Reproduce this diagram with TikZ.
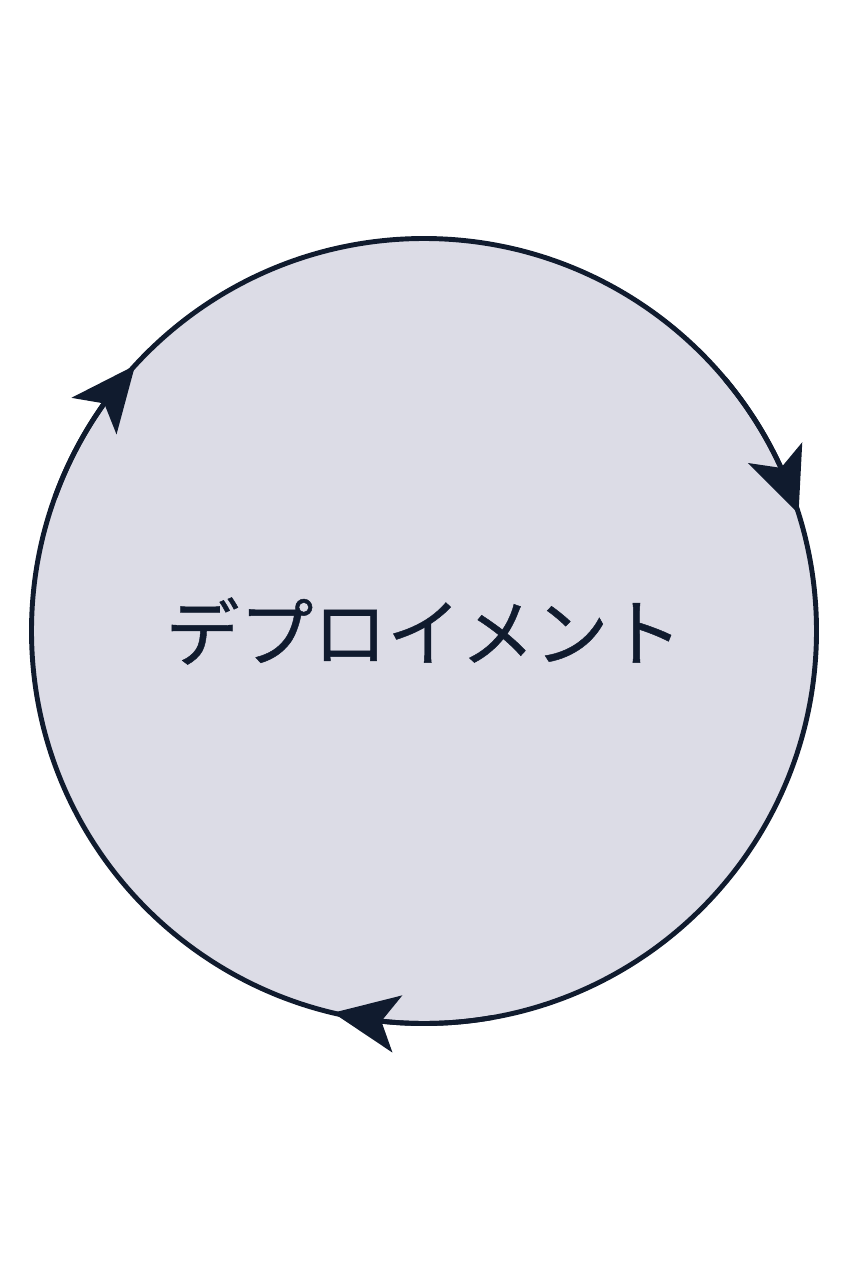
\documentclass[tikz,border=0pt]{standalone}
\usepackage{fontspec}
\newfontfamily\cjk[FakeBold=0.6]{Noto Sans CJK JP}
\usetikzlibrary{arrows.meta,bending}
\definecolor{ink}{RGB}{16,27,46}
\definecolor{disc}{RGB}{220,220,230}

\begin{document}
\begin{tikzpicture}[line width=2.8pt,
  deploy/.style={circle, draw=ink, fill=disc, minimum size=15.7cm, inner sep=0pt, outer sep=0pt,
                 text=ink, font=\cjk\fontsize{42pt}{50pt}\selectfont},
  flow/.style={draw=ink, -{Stealth[length=1.3cm, width=1.15cm, inset=0.32cm, flex]}}]

\useasboundingbox (0,0) rectangle (16.96,-25.28);

\node[deploy] (D) at (8.48,-12.62) {デプロイメント};

% three arrows going round clockwise
\draw[flow] (D.160) arc[start angle=160, end angle=137.4, radius=7.85cm];
\draw[flow] (D.40)  arc[start angle=40,  end angle=17.4,  radius=7.85cm];
\draw[flow] (D.-80) arc[start angle=-80, end angle=-103.4, radius=7.85cm];
\end{tikzpicture}
\end{document}
